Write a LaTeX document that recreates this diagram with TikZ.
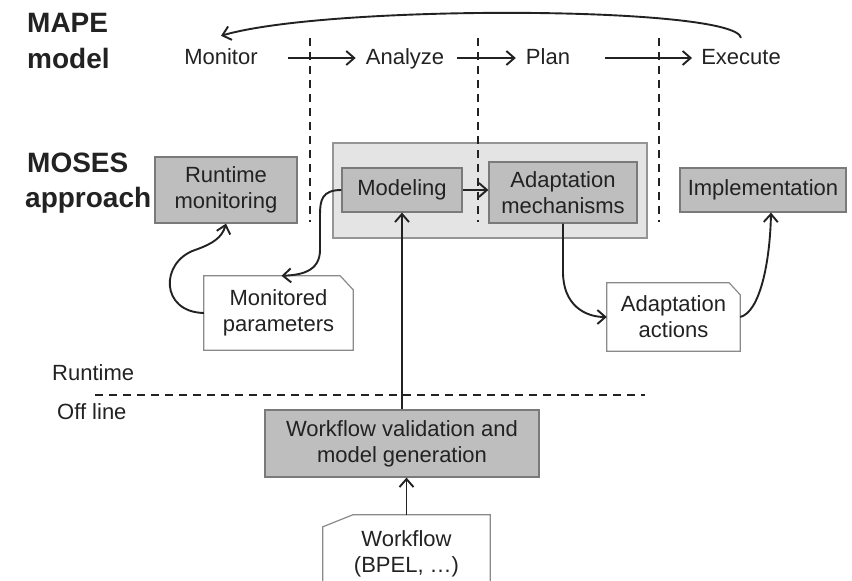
\documentclass[tikz,border=0pt]{standalone}
\usepackage{fontspec}
\setmainfont{Liberation Sans}
\usetikzlibrary{arrows.meta,backgrounds,calc}
\definecolor{ink}{HTML}{222222}
\definecolor{boxfill}{HTML}{BEBEBE}
\definecolor{boxline}{HTML}{7A7A7A}
\definecolor{groupfill}{HTML}{E4E4E4}
\definecolor{groupline}{HTML}{959595}
\definecolor{noteline}{HTML}{8A8A8A}

\begin{document}
\begin{tikzpicture}[x=1pt,y=-1pt,
  txt/.style={font=\fontsize{22}{26}\selectfont, text=ink, align=center},
  head/.style={font=\fontsize{28}{33}\selectfont\bfseries, text=ink, anchor=base west, inner sep=0},
  plain/.style={font=\fontsize{22}{26}\selectfont, text=ink, anchor=base west, inner sep=0},
  phase/.style={txt, anchor=base, inner sep=0, text height=15pt, text depth=0pt},
  proc/.style={txt, draw=boxline, fill=boxfill, line width=1.2pt, inner sep=0},
  group/.style={draw=groupline, fill=groupfill, line width=1.2pt, inner sep=0},
  note/.style={txt, inner sep=0},
  noteedge/.style={draw=noteline, fill=white, line width=1.2pt},
  arr/.style={draw=ink, line width=1.9pt, -{Straight Barb[length=8pt,width=14pt,line width=1.9pt]}},
  phaseline/.style={draw=ink, line width=1.6pt, dash pattern=on 8pt off 6pt},
]
\useasboundingbox (0,0) rectangle (852,581);
\clip (0,0) rectangle (852,581);

% headings
\node[head] (mapeA) at (27,32) {MAPE};
\node[head] (mapeB) at (27,68) {model};
\node[head] (mosesA) at (27,172) {MOSES};
\node[head] (mosesB) at (25,207) {approach};

% MAPE phases
\node[phase] (mon) at (221,64) {Monitor};
\node[phase] (ana) at (405,64) {Analyze};
\node[phase] (pln) at (548,64) {Plan};
\node[phase] (exe) at (741,64) {Execute};

\draw[arr, shorten <=30pt, shorten >=10pt] ([yshift=-1.5pt]mon.east) -- ([yshift=-1.5pt]mon.east -| ana.west);
\draw[arr, shorten <=13pt, shorten >=10pt] ([yshift=-1.5pt]ana.east) -- ([yshift=-1.5pt]ana.east -| pln.west);
\draw[arr, shorten <=35pt, shorten >=9pt] ([yshift=-1.5pt]pln.east) -- ([yshift=-1.5pt]pln.east -| exe.west);
\draw[arr] ([yshift=11pt]exe.north) .. controls (735,6) and (330,4) .. ([yshift=13pt]mon.north);

% grouping of modeling and adaptation
\node[group, minimum width=314pt, minimum height=95pt] (grp) at (490,190.5) {};

% phase boundaries
\draw[phaseline] (310,38) -- (310,222);
\draw[phaseline] (478,38) -- (478,222);
\draw[phaseline] (659,38) -- (659,222);

% MOSES components
\node[proc, minimum width=142pt, minimum height=66pt] (rm) at (226,190) {Runtime\\monitoring};
\node[proc, minimum width=120pt, minimum height=44pt] (mod) at (402,190) {Modeling};
\node[proc, minimum width=148pt, minimum height=61pt] (am) at (563,192.5) {Adaptation\\mechanisms};
\node[proc, minimum width=166pt, minimum height=44pt] (impl) at (763,190) {Implementation};
\node[proc, minimum width=274pt, minimum height=67pt] (wv) at (402,443.5) {Workflow validation and\\model generation};

% documents
\node[note, minimum width=149pt, minimum height=74pt] (mp) at (278.5,313) {Monitored\\parameters};
\node[note, minimum width=133pt, minimum height=68pt] (aa) at (673.5,317) {Adaptation\\actions};
\node[note, minimum width=167pt, minimum height=78pt] (wf) at (406.5,554) {Workflow\\(BPEL, …)};
\begin{scope}[on background layer]
  \draw[noteedge] (mp.south west) -- (mp.north west) -- ([xshift=-13pt]mp.north east)
    -- ([yshift=-14pt]mp.north east) -- (mp.south east) -- cycle;
  \draw[noteedge] (aa.south west) -- (aa.north west) -- ([xshift=-11pt]aa.north east)
    -- ([yshift=-12pt]aa.north east) -- (aa.south east) -- cycle;
  \draw[noteedge] (wf.south west) -- ([yshift=-12pt]wf.north west) -- ([xshift=30pt]wf.north west)
    -- (wf.north east) -- (wf.south east);
\end{scope}

% runtime / off line separation
\node[plain] (rt) at (52,380) {Runtime};
\node[plain] (ol) at (57,419) {Off line};
\draw[phaseline] (95,395) -- (645,395);

% connectors
\draw[arr] (mod.east) -- (mod.east -| am.west);
\draw[arr] (wv.north) -- (mod.south);
\draw[arr] (wf.north) -- (wf.north |- wv.south);
\draw[arr] (mod.west) .. controls (322,190) and (320,200) .. (320,215) -- (320,250)
  .. controls (320,272) and (300,275) .. ([xshift=3pt]mp.north);
\draw[arr] (mp.west) .. controls (160,312) and (160,262) .. (195,250)
  .. controls (212,244) and (222,238) .. (rm.south);
\draw[arr] (am.south) -- (563,272) .. controls (563,305) and (585,317) .. (aa.west);
\draw[arr] (aa.east) .. controls (760,312) and (770,262) .. ([xshift=8pt]impl.south);
\end{tikzpicture}
\end{document}
